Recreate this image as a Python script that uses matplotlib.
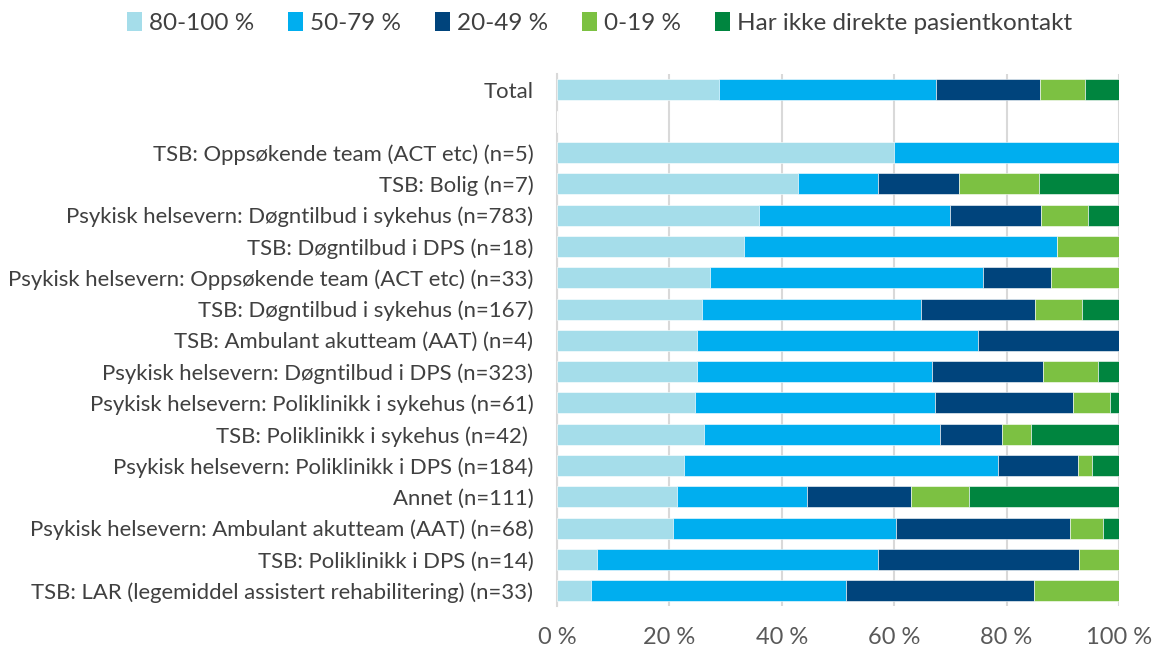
import numpy as np
import matplotlib
matplotlib.use("Agg")
import matplotlib.pyplot as plt
from matplotlib.patches import Patch

plt.rcParams['font.family'] = ['Lato', 'DejaVu Sans']

# categories from top to bottom ("" = empty spacer row)
categories = [
    "Total",
    "",
    "TSB: Oppsøkende team (ACT etc) (n=5)",
    "TSB: Bolig (n=7)",
    "Psykisk helsevern: Døgntilbud i sykehus (n=783)",
    "TSB: Døgntilbud i DPS (n=18)",
    "Psykisk helsevern: Oppsøkende team (ACT etc) (n=33)",
    "TSB: Døgntilbud i sykehus (n=167)",
    "TSB: Ambulant akutteam (AAT) (n=4)",
    "Psykisk helsevern: Døgntilbud i DPS (n=323)",
    "Psykisk helsevern: Poliklinikk i sykehus (n=61)",
    "TSB: Poliklinikk i sykehus (n=42) ",
    "Psykisk helsevern: Poliklinikk i DPS (n=184)",
    "Annet (n=111)",
    "Psykisk helsevern: Ambulant akutteam (AAT) (n=68)",
    "TSB: Poliklinikk i DPS (n=14)",
    "TSB: LAR (legemiddel assistert rehabilitering) (n=33)",
]

series_names = ["80-100 %", "50-79 %", "20-49 %", "0-19 %", "Har ikke direkte pasientkontakt"]

s_80_100 = [28.9, 0, 60.0, 42.9, 36.0, 33.3, 27.3, 25.8, 25.0, 24.9, 24.6, 26.2, 22.7, 21.3, 20.6, 7.1, 6.1]
s_50_79 = [38.6, 0, 40.0, 14.3, 33.9, 55.6, 48.5, 38.9, 50.0, 41.8, 42.6, 41.9, 55.8, 23.2, 39.7, 50.0, 45.4]
s_20_49 = [18.4, 0, 0.0, 14.3, 16.3, 0.0, 12.1, 20.3, 25.0, 19.8, 24.6, 11.0, 14.2, 18.5, 30.9, 35.7, 33.3]
s_0_19 = [8.0, 0, 0.0, 14.3, 8.3, 11.1, 12.1, 8.5, 0.0, 9.8, 6.6, 5.3, 2.5, 10.3, 5.9, 7.2, 15.2]
s_ikke = [6.1, 0, 0.0, 14.2, 5.5, 0.0, 0.0, 6.5, 0.0, 3.7, 1.6, 15.6, 4.8, 26.7, 2.9, 0.0, 0.0]

colors = ["#A5DDEA", "#00AEEF", "#00447C", "#7CC142", "#00853F"]
text_col = "#404040"

fig = plt.figure(figsize=(11.53, 6.52), dpi=100)
ax = fig.add_axes([0.483, 0.070, 0.4875, 0.816])

y = np.arange(len(categories))
left = np.zeros(len(categories))
for vals, col, name in zip([s_80_100, s_50_79, s_20_49, s_0_19, s_ikke], colors, series_names):
    vals = np.array(vals)
    ax.barh(y, vals, left=left, height=0.67, color=col, edgecolor="white", linewidth=0.4, label=name, zorder=3)
    left += vals

ax.set_ylim(len(categories) - 0.5, -0.5)
ax.set_xlim(0, 100)
ax.set_yticks(y)
ax.set_yticklabels(categories, fontsize=15.9, color=text_col)
ax.set_xticks(np.arange(0, 101, 20))
ax.set_xticklabels([f"{v} %" for v in range(0, 101, 20)], fontsize=17, color="#595959")
ax.tick_params(axis="both", length=0)
ax.tick_params(axis="y", pad=17)
ax.tick_params(axis="x", pad=15)
ax.grid(axis="x", color="#D9D9D9", linewidth=1.5, zorder=0)
for s in ["top", "right", "bottom"]:
    ax.spines[s].set_visible(False)
ax.spines["left"].set_color("#D9D9D9")
ax.spines["left"].set_linewidth(1.5)

handles = [Patch(facecolor=c) for c in colors]
fig.legend(handles, series_names, loc="upper center", bbox_to_anchor=(0.52, 1.015), ncol=5,
           frameon=False, fontsize=17.5, handlelength=0.6, handleheight=0.8, handletextpad=0.3,
           columnspacing=1.4, labelcolor=text_col)

fig.savefig("out.png", dpi=100)
